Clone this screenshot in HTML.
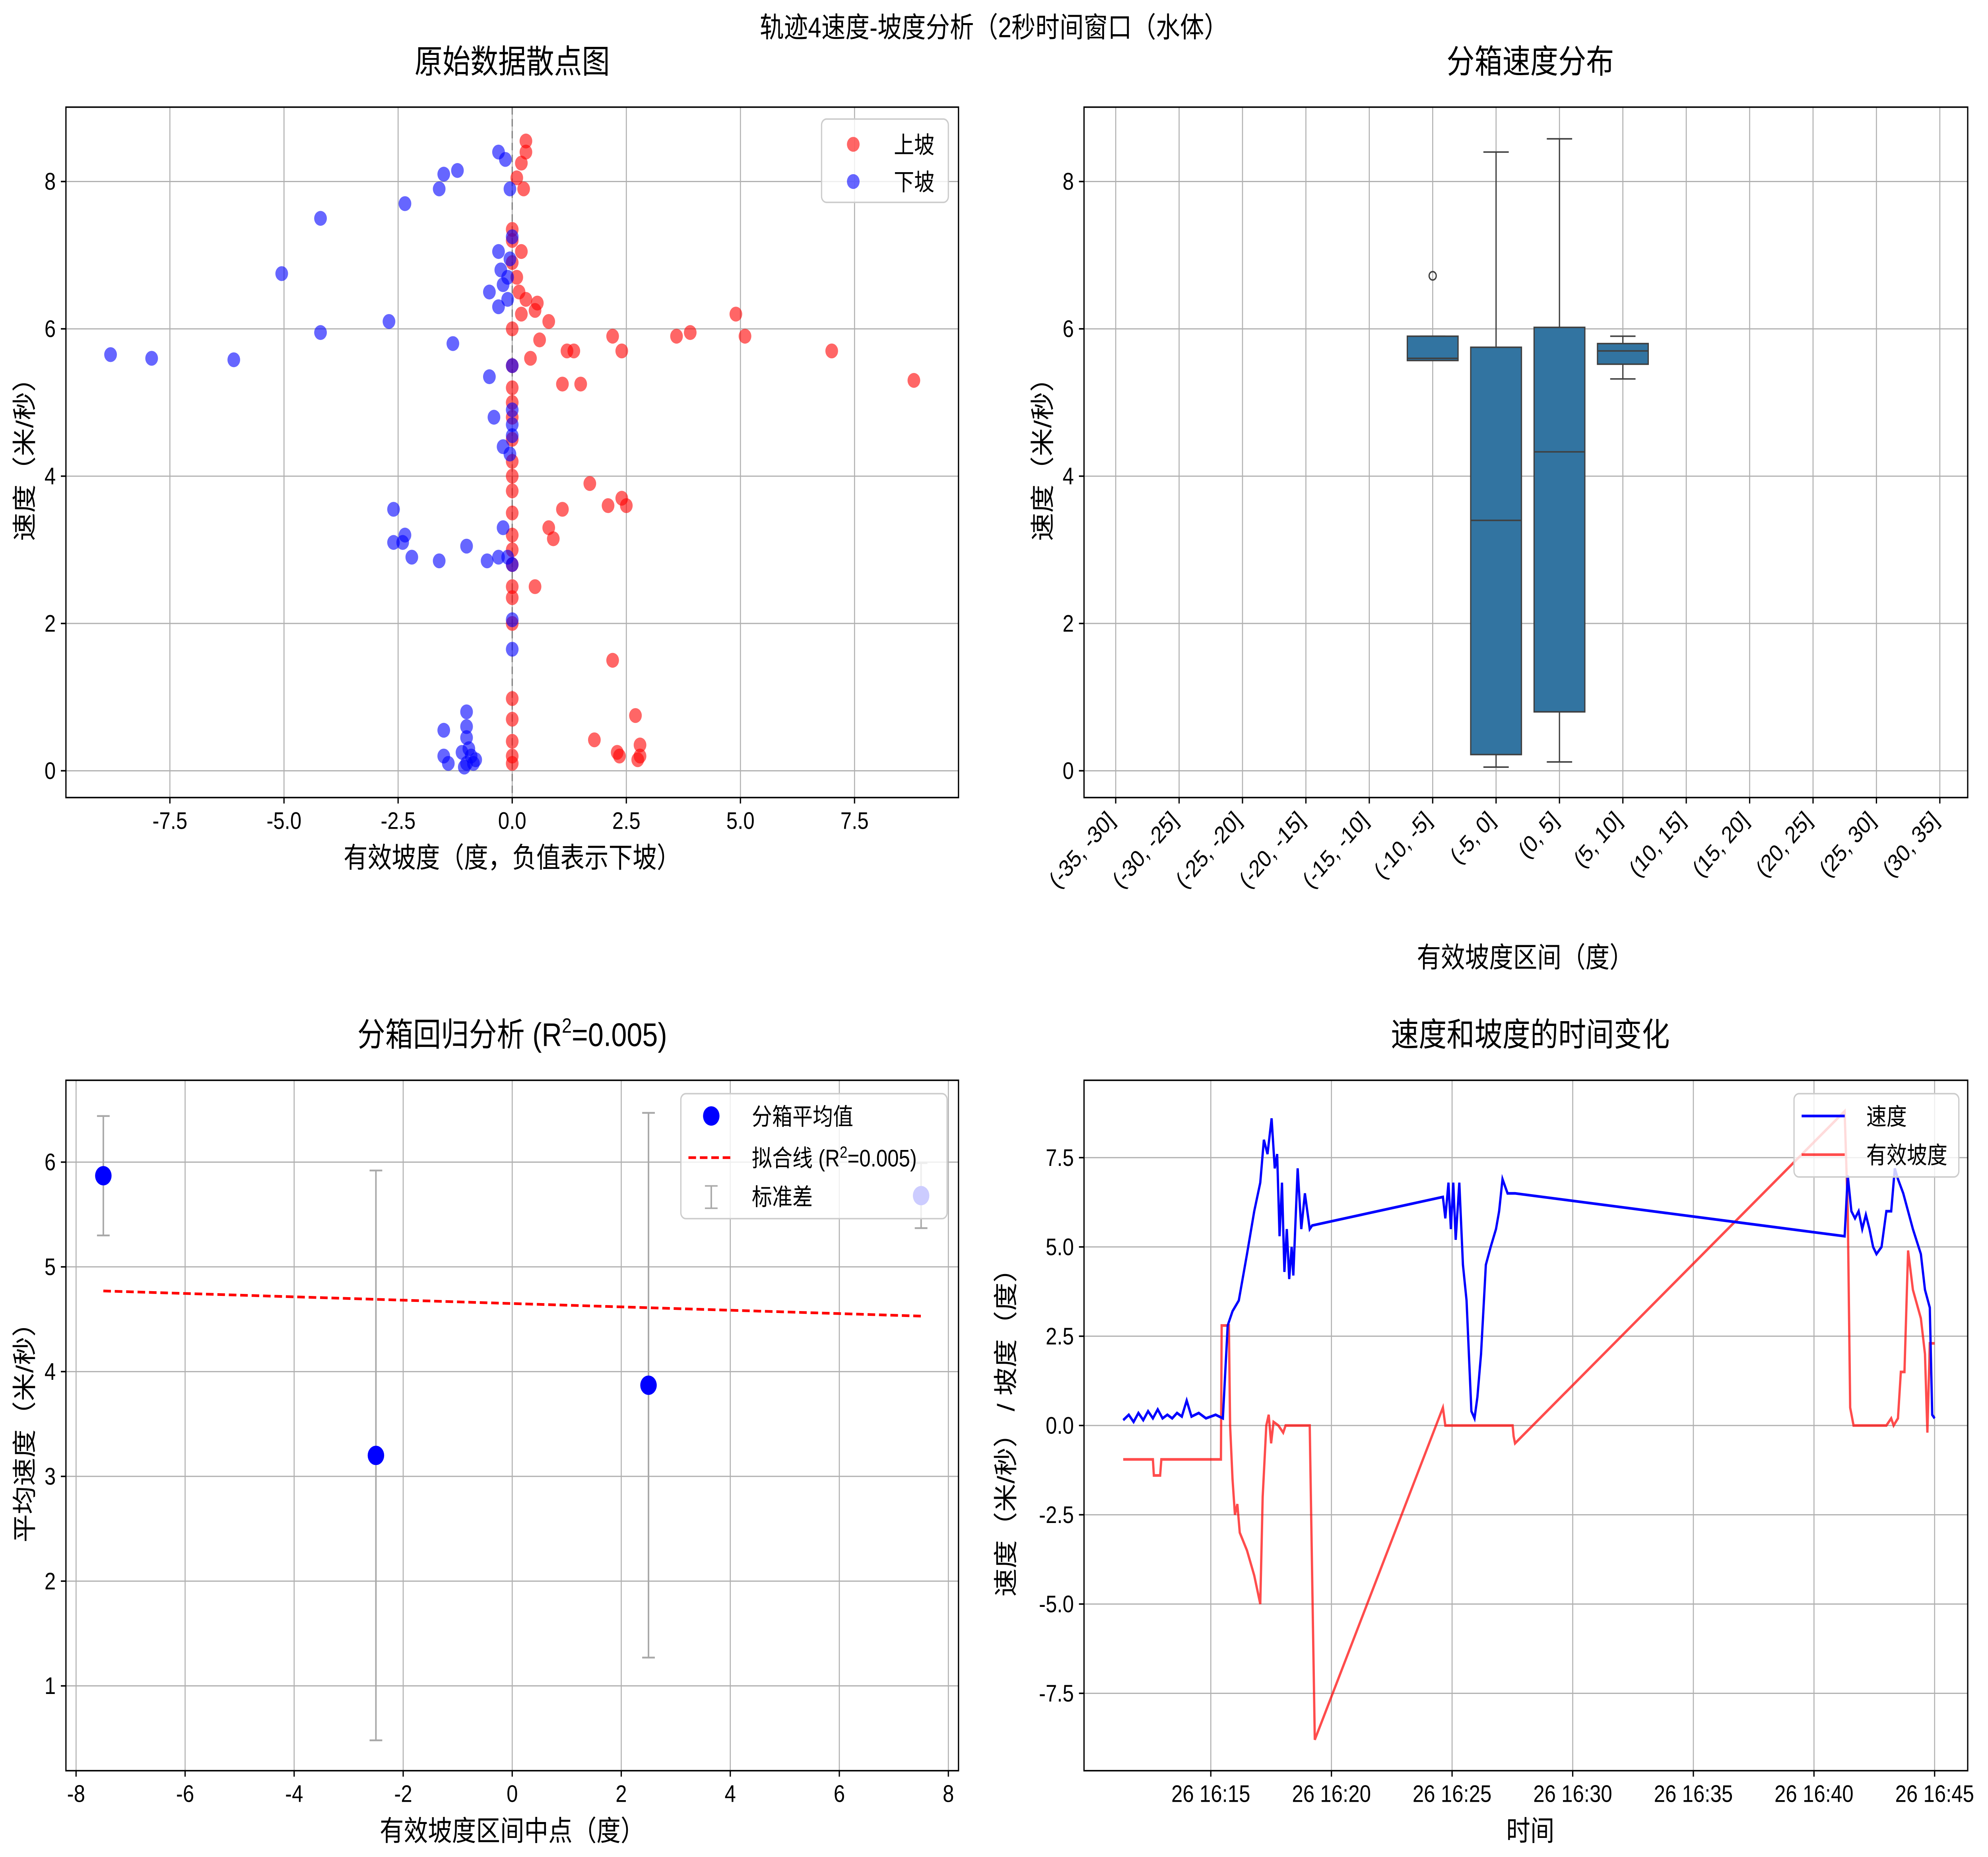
<!DOCTYPE html>
<html><head><meta charset="utf-8"><style>
html,body{margin:0;padding:0;background:#fff;overflow:hidden;width:100vw;height:100vh;}
svg{display:block;position:fixed;left:0;top:0;width:100vw;height:100vh;font-family:"Liberation Sans","Noto Sans CJK SC",sans-serif;}
</style></head><body>
<svg id="fig" viewBox="0 0 1568 1248" preserveAspectRatio="none" xmlns="http://www.w3.org/2000/svg">
<rect width="1568" height="1248" fill="#fff"/>
<text x="784" y="25" text-anchor="middle" font-size="19">轨迹4速度-坡度分析（2秒时间窗口（水体）</text>
</svg>
<script>
// ---------- Panel 1 data ----------
const upX=[0.3,0.3,0.2,0.1,0.25,0,0,0.2,0,0.1,0.15,0.3,0.55,0.5,0.2,0.8,0.6,0.4,1.1,1.2,1.35,1.5,2.2,2.4,3.6,3.9,4.9,5.1,7,8.8,0,0,0,0,0,0,1.7,1.1,0.8,0.9,2.1,2.4,2.5,0.5,0,0,0,0,0,0,0,0,2.2,2.7,1.8,2.3,2.35,2.8,2.8,2.75,0,0,0,0,0,0,0];
const upY=[8.55,8.4,8.25,8.05,7.9,7.35,7.2,7.05,6.9,6.7,6.5,6.4,6.35,6.25,6.2,6.1,5.85,5.6,5.25,5.7,5.7,5.25,5.9,5.7,5.9,5.95,6.2,5.9,5.7,5.3,5.0,4.5,4.2,4.0,3.8,3.5,3.9,3.55,3.3,3.15,3.6,3.7,3.6,2.5,2.5,2.35,2.0,0.98,0.7,0.4,0.2,0.1,1.5,0.75,0.42,0.25,0.2,0.35,0.2,0.15,5.5,6.0,5.2,4.8,3.2,3.0,2.8];
const downX=[-8.8,-7.9,-6.1,-5.05,-4.2,-4.2,-2.35,-2.7,-1.6,-1.5,-1.2,-1.3,-0.5,-0.4,-0.3,-0.15,-0.05,-0.3,-0.25,-0.5,-0.3,-0.2,-0.1,-0.05,0,-0.1,0,0,0,-0.2,-0.05,0,-2.6,-2.6,-2.4,-2.35,-2.2,-1.6,-1.0,-0.55,-0.3,-0.2,-0.1,0,0,0,-1.5,-1.5,-1.4,-1.0,-1.0,-1.0,-0.95,-0.9,-1.0,-0.8,-1.05,-0.85,-1.1];
const downY=[5.65,5.6,5.58,6.75,7.5,5.95,7.7,6.1,7.9,8.1,8.15,5.8,5.35,4.8,8.4,8.3,7.9,7.05,6.8,6.5,6.3,6.6,6.7,6.95,7.25,6.4,5.5,4.9,4.7,4.4,4.3,4.55,3.55,3.1,3.1,3.2,2.9,2.85,3.05,2.85,2.9,3.3,2.9,2.8,2.05,1.65,0.55,0.2,0.1,0.8,0.6,0.45,0.3,0.2,0.1,0.15,0.05,0.1,0.25];
// ---------- Panel 2 data ----------
const binLabels=["(-35, -30]","(-30, -25]","(-25, -20]","(-20, -15]","(-15, -10]","(-10, -5]","(-5, 0]","(0, 5]","(5, 10]","(10, 15]","(15, 20]","(20, 25]","(25, 30]","(30, 35]"];
const boxIdx=[5,6,7,8];
const boxQ1=[5.57,0.22,0.8,5.52];
const boxMed=[5.6,3.4,4.33,5.7];
const boxQ3=[5.9,5.75,6.02,5.8];
const boxLo=[5.57,0.05,0.12,5.32];
const boxHi=[5.9,8.4,8.58,5.9];
const outIdx=[5]; const outVal=[6.72];
// ---------- Panel 3 data ----------
const midX=[-7.5,-2.5,2.5,7.5];
const meanY=[5.87,3.2,3.87,5.68];
const sdY=[0.57,2.72,2.6,0.31];
const fitX=[-7.5,7.5]; const fitY=[4.77,4.53];
// ---------- Panel 4 data ----------
const spT=[11.37,11.6,11.8,12.0,12.2,12.4,12.6,12.8,13.0,13.2,13.4,13.6,13.8,14.0,14.2,14.5,14.8,15.2,15.5,15.7,15.9,16.16,16.5,16.8,17.05,17.2,17.35,17.52,17.65,17.75,17.85,17.95,18.05,18.15,18.25,18.35,18.42,18.6,18.75,18.9,19.1,19.2,24.62,24.72,24.85,24.95,25.05,25.15,25.3,25.45,25.6,25.8,25.93,26.05,26.2,26.4,26.6,26.82,26.95,27.09,27.3,27.61,41.27,41.4,41.55,41.7,41.85,42.0,42.15,42.3,42.45,42.59,42.8,43.0,43.2,43.35,43.48,43.7,43.9,44.1,44.43,44.6,44.8,44.9,45.0];
const spV=[0.15,0.3,0.1,0.35,0.15,0.4,0.2,0.45,0.2,0.3,0.2,0.35,0.25,0.7,0.25,0.35,0.2,0.3,0.2,2.8,3.2,3.5,4.8,6,6.8,8.0,7.6,8.6,7.2,7.6,5.3,6.8,4.3,5.5,4.1,5.0,4.2,7.2,5.5,6.5,5.5,5.6,6.4,5.8,6.8,5.5,6.8,5.2,6.8,4.5,3.5,0.4,0.2,0.8,2.0,4.5,5.0,5.5,6.0,6.9,6.5,6.5,5.3,7.0,6.0,5.8,6.0,5.5,5.9,5.5,5.0,4.8,5.0,6.0,6.0,7.2,6.9,6.5,6.0,5.5,4.8,3.8,3.3,0.3,0.2];
const slT=[11.37,12.6,12.64,12.9,12.95,15.42,15.45,15.75,15.8,15.9,16.0,16.1,16.2,16.5,16.8,17.05,17.15,17.3,17.4,17.5,17.6,17.8,18.0,18.1,19.1,19.31,24.62,24.72,27.51,27.55,27.61,41.27,41.4,41.5,41.64,43.0,43.2,43.3,43.48,43.6,43.75,43.9,44.1,44.43,44.6,44.7,44.8,45.0];
const slV=[-0.95,-0.95,-1.4,-1.4,-0.95,-0.95,2.8,2.8,0,-1.5,-2.5,-2.2,-3.0,-3.5,-4.2,-5.0,-2.0,0,0.3,-0.5,0.1,0,-0.2,0,0,-8.8,0.5,0,0,-0.3,-0.5,8.8,6,0.5,0,0,0.2,0,0.2,1.5,1.5,4.9,3.8,3.0,2.0,-0.2,2.3,2.3];
const timeTicks=[15,20,25,30,35,40,45];

const NS="http://www.w3.org/2000/svg";
const svg=document.getElementById('fig');
function el(tag,attrs,parent,txt){const e=document.createElementNS(NS,tag);for(const k in attrs)e.setAttribute(k,attrs[k]);if(txt!==undefined)e.textContent=txt;(parent||svg).appendChild(e);return e;}
const FS=16;

function frame(name){
  const g=el('g',{});
  
  
  return g;
}
function border(g,x0,y0,x1,y1){el('rect',{x:x0,y:y0,width:x1-x0,height:y1-y0,fill:'none',stroke:'#000','stroke-width':1},g);}
function grid(g,x0,y0,x1,y1,xs,ys){
  xs.forEach(x=>el('line',{x1:x,x2:x,y1:y0,y2:y1,stroke:'#b0b0b0','stroke-width':0.8},g));
  ys.forEach(y=>el('line',{x1:x0,x2:x1,y1:y,y2:y,stroke:'#b0b0b0','stroke-width':0.8},g));
}
function yticks(g,x0,vals,fy,fmt){vals.forEach(v=>{const y=fy(v);el('line',{x1:x0-4,x2:x0,y1:y,y2:y,stroke:'#000'},g);const t=el('text',{x:x0-8,y:y+5.5,'text-anchor':'end','font-size':FS},g,fmt(v));});}
function xticks(g,y1,vals,fx,fmt){vals.forEach(v=>{const x=fx(v);el('line',{x1:x,x2:x,y1:y1,y2:y1+4,stroke:'#000'},g);const t=el('text',{x:x,y:y1+21,'text-anchor':'middle','font-size':FS},g,fmt(v));});}
function label(g,x,y,txt,size,name,rot){const a={x:x,y:y,'text-anchor':'middle','font-size':size};if(rot)a.transform=`rotate(-90 ${x} ${y})`;const t=el('text',a,g,txt);return t;}

// ===== Panel 1 =====
(function(){
  const X0=52,X1=756,Y0=72,Y1=536;
  const fx=v=>404+v*36, fy=v=>518-v*49.5;
  const g=frame('scatter-panel');
  const xt=[-7.5,-5,-2.5,0,2.5,5,7.5], yt=[0,2,4,6,8];
  grid(g,X0,Y0,X1,Y1,xt.map(fx),yt.map(fy));
  el('line',{x1:fx(0),x2:fx(0),y1:Y0,y2:Y1,stroke:'#808080','stroke-dasharray':'5,3','stroke-width':1},g);
  upX.forEach((v,i)=>{const c=el('circle',{cx:fx(v),cy:fy(upY[i]),r:5,fill:'#ff0000','fill-opacity':0.6},g);
    
    });
  downX.forEach((v,i)=>{const c=el('circle',{cx:fx(v),cy:fy(downY[i]),r:5,fill:'#0000ff','fill-opacity':0.6},g);
    
    });
  border(g,X0,Y0,X1,Y1);
  yticks(g,X0,yt,fy,v=>v);
  xticks(g,Y1,xt,fx,v=>v.toFixed(1));
  label(g,404,49,'原始数据散点图',22,'scatter-title');
  label(g,404,583,'有效坡度（度，负值表示下坡）',19,'scatter-x-axis-title');
  label(g,26,304,'速度（米/秒）',19,'scatter-y-axis-title',true);
  const lg=el('g',{},g);
  
  
  el('rect',{x:648,y:80,width:100,height:56,rx:4,fill:'#fff','fill-opacity':0.8,stroke:'#ccc'},lg);
  el('circle',{cx:673,cy:97,r:5,fill:'#ff0000','fill-opacity':0.6},lg);
  el('text',{x:705,y:103,'font-size':FS},lg,'上坡');
  el('circle',{cx:673,cy:122,r:5,fill:'#0000ff','fill-opacity':0.6},lg);
  el('text',{x:705,y:128,'font-size':FS},lg,'下坡');
})();

// ===== Panel 2 =====
(function(){
  const X0=855,X1=1552,Y0=72,Y1=536;
  const fx=i=>880+i*50, fy=v=>518-v*49.5;
  const g=frame('box-panel');
  const yt=[0,2,4,6,8];
  grid(g,X0,Y0,X1,Y1,binLabels.map((_,i)=>fx(i)),yt.map(fy));
  boxIdx.forEach((bi,k)=>{
    const cx=fx(bi),w=40;
    const b=el('g',{},g);
    
    
    el('line',{x1:cx,x2:cx,y1:fy(boxHi[k]),y2:fy(boxQ3[k]),stroke:'#3f3f3f'},b);
    el('line',{x1:cx,x2:cx,y1:fy(boxQ1[k]),y2:fy(boxLo[k]),stroke:'#3f3f3f'},b);
    el('line',{x1:cx-w/4,x2:cx+w/4,y1:fy(boxHi[k]),y2:fy(boxHi[k]),stroke:'#3f3f3f'},b);
    el('line',{x1:cx-w/4,x2:cx+w/4,y1:fy(boxLo[k]),y2:fy(boxLo[k]),stroke:'#3f3f3f'},b);
    el('rect',{x:cx-w/2,y:fy(boxQ3[k]),width:w,height:fy(boxQ1[k])-fy(boxQ3[k]),fill:'#3274a1',stroke:'#3f3f3f'},b);
    el('line',{x1:cx-w/2,x2:cx+w/2,y1:fy(boxMed[k]),y2:fy(boxMed[k]),stroke:'#3f3f3f'},b);
  });
  outIdx.forEach((bi,k)=>{const c=el('circle',{cx:fx(bi),cy:fy(outVal[k]),r:2.8,fill:'none',stroke:'#3f3f3f'},g);
    
    });
  border(g,X0,Y0,X1,Y1);
  yticks(g,X0,yt,fy,v=>v);
  binLabels.forEach((s,i)=>{const x=fx(i);el('line',{x1:x,x2:x,y1:Y1,y2:Y1+4,stroke:'#000'},g);
    const t=el('text',{x:x,y:Y1+16,'text-anchor':'end','font-size':FS,transform:`rotate(-45 ${x} ${Y1+16})`},g,s);
    
    });
  label(g,1207,49,'分箱速度分布',22,'box-title');
  label(g,1203,650,'有效坡度区间（度）',19,'box-x-axis-title');
  label(g,829,304,'速度（米/秒）',19,'box-y-axis-title',true);
})();

// ===== Panel 3 =====
(function(){
  const X0=52,X1=756,Y0=726,Y1=1190;
  const fx=v=>404+v*43, fy=v=>1133-(v-1)*70.4;
  const g=frame('regression-panel');
  const xt=[-8,-6,-4,-2,0,2,4,6,8], yt=[1,2,3,4,5,6];
  grid(g,X0,Y0,X1,Y1,xt.map(fx),yt.map(fy));
  midX.forEach((m,i)=>{const x=fx(m),a=fy(meanY[i]-sdY[i]),b=fy(meanY[i]+sdY[i]);
    const e=el('g',{},g);
    
    
    el('line',{x1:x,x2:x,y1:a,y2:b,stroke:'#a8a8a8','stroke-width':1.2},e);
    el('line',{x1:x-5,x2:x+5,y1:a,y2:a,stroke:'#a8a8a8','stroke-width':1.2},e);
    el('line',{x1:x-5,x2:x+5,y1:b,y2:b,stroke:'#a8a8a8','stroke-width':1.2},e);});
  const fl=el('line',{x1:fx(fitX[0]),y1:fy(fitY[0]),x2:fx(fitX[1]),y2:fy(fitY[1]),stroke:'#ff0000','stroke-width':1.8,'stroke-dasharray':'6,3'},g);
  
  
  midX.forEach((m,i)=>{const c=el('circle',{cx:fx(m),cy:fy(meanY[i]),r:6.5,fill:'#0000ff'},g);
    
    });
  const lg=el('g',{},g);
  
  
  el('rect',{x:537,y:735,width:210,height:84,rx:4,fill:'#fff','fill-opacity':0.8,stroke:'#ccc'},lg);
  el('circle',{cx:561,cy:750,r:6.5,fill:'#0000ff'},lg);
  el('text',{x:593,y:756,'font-size':FS},lg,'分箱平均值');
  el('line',{x1:543,x2:577,y1:778,y2:778,stroke:'#ff0000','stroke-width':1.8,'stroke-dasharray':'6,3'},lg);
  const t=el('text',{x:593,y:784,'font-size':FS},lg,'拟合线 (R');
  el('tspan',{dy:-6,'font-size':11},t,'2');el('tspan',{dy:6},t,'=0.005)');
  el('line',{x1:561,x2:561,y1:797,y2:812,stroke:'#a8a8a8','stroke-width':1.2},lg);
  el('line',{x1:556,x2:566,y1:797,y2:797,stroke:'#a8a8a8'},lg);
  el('line',{x1:556,x2:566,y1:812,y2:812,stroke:'#a8a8a8'},lg);
  el('text',{x:593,y:810,'font-size':FS},lg,'标准差');
  border(g,X0,Y0,X1,Y1);
  yticks(g,X0,yt,fy,v=>v);
  xticks(g,Y1,xt,fx,v=>v);
  const tt=label(g,404,703,'分箱回归分析 (R',22,'regression-title');
  el('tspan',{dy:-9,'font-size':14},tt,'2');el('tspan',{dy:9},tt,'=0.005)');
  label(g,404,1237,'有效坡度区间中点（度）',19,'regression-x-axis-title');
  label(g,26,958,'平均速度（米/秒）',19,'regression-y-axis-title',true);
})();

// ===== Panel 4 =====
(function(){
  const X0=855,X1=1552,Y0=726,Y1=1190;
  const fx=t=>955+(t-15)*19.03, fy=v=>958-v*24;
  const g=frame('time-series-panel');
  const yt=[-7.5,-5,-2.5,0,2.5,5,7.5];
  grid(g,X0,Y0,X1,Y1,timeTicks.map(fx),yt.map(fy));
  const sl=el('polyline',{points:slT.map((t,i)=>fx(t)+','+fy(slV[i])).join(' '),fill:'none',stroke:'#ff0000','stroke-opacity':0.7,'stroke-width':1.8},g);
  
  
  const sp=el('polyline',{points:spT.map((t,i)=>fx(t)+','+fy(spV[i])).join(' '),fill:'none',stroke:'#0000ff','stroke-width':1.8},g);
  
  
  const lg=el('g',{},g);
  
  
  el('rect',{x:1415,y:735,width:130,height:56,rx:4,fill:'#fff','fill-opacity':0.8,stroke:'#ccc'},lg);
  el('line',{x1:1421,x2:1455,y1:750,y2:750,stroke:'#0000ff','stroke-width':1.8},lg);
  el('text',{x:1472,y:756,'font-size':FS},lg,'速度');
  el('line',{x1:1421,x2:1455,y1:776,y2:776,stroke:'#ff0000','stroke-opacity':0.7,'stroke-width':1.8},lg);
  el('text',{x:1472,y:782,'font-size':FS},lg,'有效坡度');
  border(g,X0,Y0,X1,Y1);
  yticks(g,X0,yt,fy,v=>v.toFixed(1));
  xticks(g,Y1,timeTicks,fx,v=>'26 16:'+v);
  label(g,1207,703,'速度和坡度的时间变化',22,'time-title');
  label(g,1207,1237,'时间',19,'time-x-axis-title');
  label(g,800,958,'速度（米/秒） / 坡度（度）',19,'time-y-axis-title',true);
})();
</script>
</body></html>
